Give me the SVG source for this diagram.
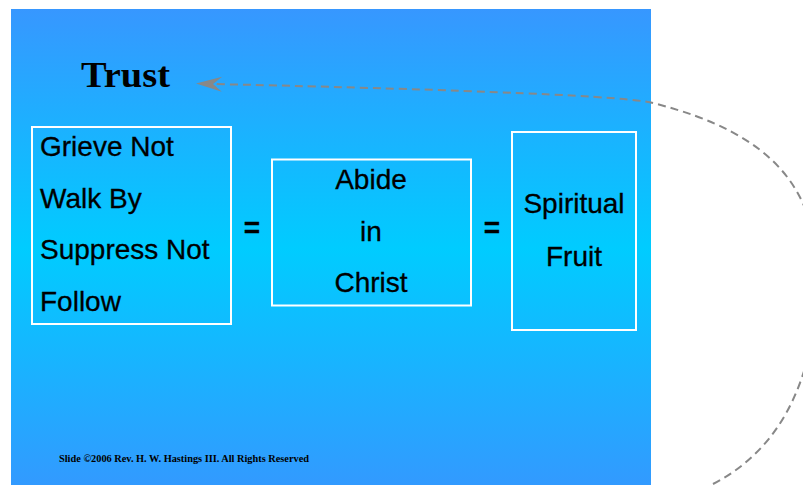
<svg xmlns="http://www.w3.org/2000/svg" width="803" height="485" viewBox="0 0 803 485">
<style>
.box{fill:none;stroke:#fff;stroke-width:2}
.t{font-family:"Liberation Sans",Arial,sans-serif;font-size:28px;fill:#000;stroke:#000;stroke-width:0.3}
.c{text-anchor:middle}
.eq{font-weight:bold}
.conn{fill:none;stroke:#888;stroke-width:2;stroke-dasharray:8 5}
</style>
<defs>
<linearGradient id="bg" x1="0" y1="0" x2="0" y2="1">
<stop offset="0" stop-color="#3797FF"/>
<stop offset="0.5" stop-color="#00CCFF"/>
<stop offset="1" stop-color="#3399FF"/>
</linearGradient>
<marker id="arr" markerUnits="userSpaceOnUse" viewBox="-10 -8 28 16" markerWidth="28" markerHeight="16" refX="0" refY="0" orient="auto">
<path d="M17,0 L-9,-7.5 L0,0 L-9,7.5 Z" fill="#888"/>
</marker>
</defs>
<rect x="0" y="0" width="803" height="485" fill="#fff"/>
<rect x="11" y="9" width="640" height="480" fill="url(#bg)"/>
<g id="trust"><text x="81" y="87" font-family="'Liberation Serif','Times New Roman',serif" font-weight="bold" font-size="36" textLength="89" lengthAdjust="spacingAndGlyphs" fill="#000">Trust</text></g>
<g id="node-walk">
<rect class="box" x="32" y="127" width="199" height="197"/>
<text class="t" x="40" y="156">Grieve Not</text>
<text class="t" x="40" y="208">Walk By</text>
<text class="t" x="40" y="259">Suppress Not</text>
<text class="t" x="40" y="311">Follow</text>
</g>
<g id="eq1"><text class="t c eq" x="252" y="237">=</text></g>
<g id="node-abide">
<rect class="box" x="272" y="159.5" width="199" height="146"/>
<text class="t c" x="371" y="189">Abide</text>
<text class="t c" x="371" y="241">in</text>
<text class="t c" x="371" y="292">Christ</text>
</g>
<g id="eq2"><text class="t c eq" x="492" y="237">=</text></g>
<g id="node-fruit">
<rect class="box" x="512" y="132" width="124" height="198"/>
<text class="t c" x="574" y="213">Spiritual</text>
<text class="t c" x="574" y="266">Fruit</text>
</g>
<g id="footer"><text x="59" y="462" font-family="'Liberation Serif','Times New Roman',serif" font-weight="bold" font-size="10" textLength="250" lengthAdjust="spacingAndGlyphs" fill="#000">Slide ©2006 Rev. H. W. Hastings III.  All Rights Reserved</text></g>
<g id="connectors">
<path class="conn" d="M713,484 C775,452 812,390 818,290 C820,190 775,134 653,103 Q614,93 213,84" marker-end="url(#arr)"/>
</g>
</svg>
